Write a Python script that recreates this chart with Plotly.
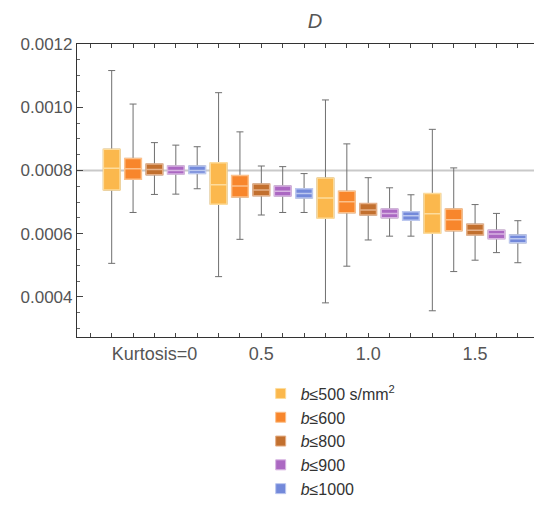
import plotly.graph_objects as go

# ---- data ----
group_labels = ["Kurtosis=0", "0.5", "1.0", "1.5"]
series_names = ["<i>b</i>≤500 s/mm<sup>2</sup>", "<i>b</i>≤600", "<i>b</i>≤800", "<i>b</i>≤900", "<i>b</i>≤1000"]
series_colors = ["#FBB84D", "#F8862C", "#C2702F", "#AB68C2", "#7389DA"]
edge_colors = ["#FDDC9C", "#FCC08A", "#E5B088", "#D8B4E2", "#BCC8EF"]

upper_whisker = [
    [0.001116, 0.001046, 0.001023, 0.000930],
    [0.001010, 0.000922, 0.000884, 0.000808],
    [0.000888, 0.000814, 0.000777, 0.000692],
    [0.000880, 0.000812, 0.000745, 0.000664],
    [0.000875, 0.000790, 0.000723, 0.000641],
]
q3 = [
    [0.000867, 0.000824, 0.000776, 0.000727],
    [0.000838, 0.000784, 0.000734, 0.000678],
    [0.000820, 0.000757, 0.000695, 0.000630],
    [0.000814, 0.000751, 0.000678, 0.000611],
    [0.000814, 0.000742, 0.000669, 0.000596],
]
median = [
    [0.000807, 0.000755, 0.000713, 0.000663],
    [0.000805, 0.000751, 0.000701, 0.000644],
    [0.000803, 0.000738, 0.000675, 0.000611],
    [0.000800, 0.000734, 0.000664, 0.000599],
    [0.000800, 0.000727, 0.000657, 0.000584],
]
q1 = [
    [0.000738, 0.000693, 0.000649, 0.000601],
    [0.000772, 0.000716, 0.000666, 0.000609],
    [0.000786, 0.000720, 0.000659, 0.000596],
    [0.000789, 0.000719, 0.000650, 0.000584],
    [0.000790, 0.000713, 0.000642, 0.000571],
]
lower_whisker = [
    [0.000506, 0.000464, 0.000381, 0.000356],
    [0.000667, 0.000582, 0.000497, 0.000480],
    [0.000724, 0.000659, 0.000580, 0.000516],
    [0.000725, 0.000667, 0.000592, 0.000540],
    [0.000742, 0.000667, 0.000592, 0.000508],
]
reference_value = 0.0008

n_series = len(series_names)
n_groups = len(group_labels)

FONT = "Liberation Sans, Arial, sans-serif"
fig = go.Figure()

# whisker traces (gray)
for s in range(n_series):
    xs = [1 + g * n_series + s for g in range(n_groups)]
    fig.add_trace(go.Box(
        x=xs, q1=q1[s], median=median[s], q3=q3[s],
        lowerfence=lower_whisker[s], upperfence=upper_whisker[s],
        width=0.78, whiskerwidth=0.42,
        fillcolor="rgba(0,0,0,0)", line=dict(color="#6f6f6f", width=1),
        showlegend=False, hoverinfo="skip",
    ))

# colored box traces
for s in range(n_series):
    xs = [1 + g * n_series + s for g in range(n_groups)]
    fig.add_trace(go.Box(
        x=xs, q1=q1[s], median=median[s], q3=q3[s],
        lowerfence=q1[s], upperfence=q3[s],
        width=0.78, whiskerwidth=0,
        fillcolor=series_colors[s], line=dict(color=edge_colors[s], width=1.5),
        showlegend=False,
    ))

# legend entries (small squares)
for s in range(n_series):
    fig.add_trace(go.Scatter(
        x=[None], y=[None], mode="markers", name=series_names[s],
        marker=dict(symbol="square", size=10, color=series_colors[s],
                    line=dict(color=edge_colors[s], width=1)),
    ))

fig.add_shape(type="line", xref="paper", x0=0, x1=1, yref="y",
              y0=reference_value, y1=reference_value,
              line=dict(color="#c9c9c9", width=2), layer="below")

label_positions = [1 + g * n_series + n_series // 2 for g in range(n_groups)]

fig.update_layout(
    width=534, height=507, autosize=False,
    margin=dict(l=69, r=0, t=36, b=178, autoexpand=False),
    plot_bgcolor="white", paper_bgcolor="white",
    boxmode="overlay",
    font=dict(family=FONT, color="#555555", size=17),
    title=dict(text="<i>D</i>", xref="paper", x=0.512, xanchor="center",
               yref="container", y=0.975, yanchor="middle",
               font=dict(family=FONT, size=20, color="#555555")),
    xaxis=dict(
        range=[-0.623, 21.13], tickvals=label_positions, ticktext=group_labels,
        ticks="inside", ticklen=4, tickcolor="#444", showgrid=False, zeroline=False,
        showline=True, linecolor="#333333", linewidth=1.2, mirror="ticks",
        minor=dict(tick0=1, dtick=1, ticks="inside", ticklen=4, tickcolor="#444", showgrid=False),
        tickfont=dict(size=18, color="#555555"), automargin=False,
    ),
    yaxis=dict(
        range=[0.000273, 0.0012], dtick=0.0002, tick0=0.0004, tickformat=".4f",
        ticks="inside", ticklen=6, tickcolor="#444", showgrid=False, zeroline=False,
        showline=True, linecolor="#333333", linewidth=1.2,
        minor=dict(dtick=0.00005, ticks="inside", ticklen=3, tickcolor="#666", showgrid=False),
        tickfont=dict(size=17, color="#555555"), automargin=False,
    ),
    legend=dict(x=0.395, xanchor="left", y=-0.135, yanchor="top",
                font=dict(family=FONT, size=16, color="#333333"),
                bgcolor="rgba(0,0,0,0)", tracegroupgap=0, itemwidth=30),
)

fig.write_html("out.html")
